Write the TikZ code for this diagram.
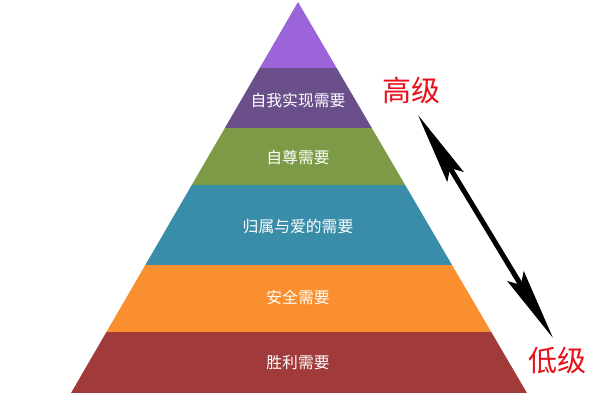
\documentclass[tikz,border=0pt]{standalone}
\usepackage{fontspec}
\newfontfamily\cjk{Noto Sans CJK SC}
\usetikzlibrary{arrows.meta}
\definecolor{cA}{HTML}{9B65D9}
\definecolor{cB}{HTML}{6A4F8A}
\definecolor{cC}{HTML}{7D9B46}
\definecolor{cD}{HTML}{3A8DA8}
\definecolor{cE}{HTML}{F98F2E}
\definecolor{cF}{HTML}{A13A3A}
\definecolor{cRed}{HTML}{E8101A}
\begin{document}
\begin{tikzpicture}[x=1pt,y=-1pt,
  lvl/.style={text=white,font=\cjk\fontsize{15.8}{16}\selectfont,inner sep=0pt},
  side/.style={text=cRed,font=\cjk\fontsize{29}{29}\selectfont,inner sep=0pt},
  hd/.tip={Stealth[length=72pt,width=19pt,inset=10pt]}]
\useasboundingbox (0,0) rectangle (600,400);
\begin{scope}
\clip (298,2) -- (527,393) -- (71,393) -- cycle;
\fill[cA] (0,0) rectangle (600,67.5);
\fill[cB] (0,67.5) rectangle (600,128);
\fill[cC] (0,128) rectangle (600,185);
\fill[cD] (0,185) rectangle (600,264.5);
\fill[cE] (0,264.5) rectangle (600,332);
\fill[cF] (0,332) rectangle (600,393);
\end{scope}
\node[lvl] (l1) at (298,100) {自我实现需要};
\node[lvl] (l2) at (298,157) {自尊需要};
\node[lvl] (l3) at (298,226) {归属与爱的需要};
\node[lvl] (l4) at (298,297) {安全需要};
\node[lvl] (l5) at (298,363) {胜利需要};
\node[side] (hi) at (411,90) {高级};
\node[side] (lo) at (557,361) {低级};
\coordinate (top) at (418,115);
\coordinate (bot) at (553,338);
\draw[line width=5pt,{hd}-{hd}] (top) -- (bot);
\end{tikzpicture}
\end{document}
